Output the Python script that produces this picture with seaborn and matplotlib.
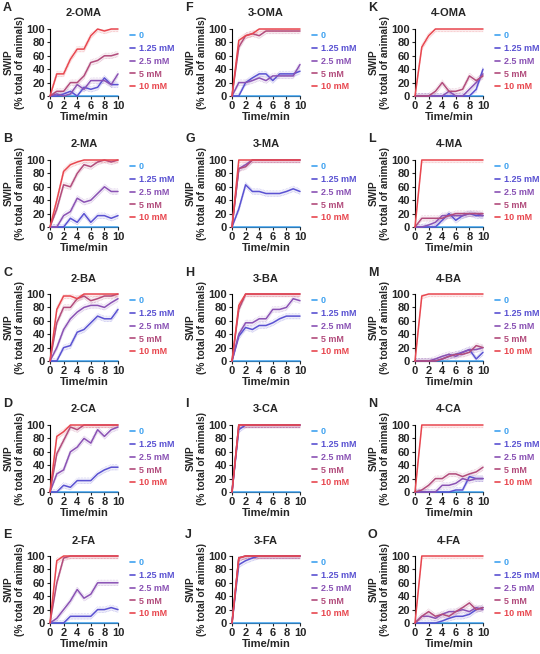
import numpy as np
import pandas as pd
import matplotlib
matplotlib.use("Agg")
import matplotlib.pyplot as plt
from matplotlib.lines import Line2D
import seaborn as sns

TIME = list(range(11))
CONCS = ["0", "1.25 mM", "2.5 mM", "5 mM", "10 mM"]
COLORS = ["#3fa2f0", "#5a52d2", "#8a52b4", "#b24c7c", "#e8474f"]
BAND = 4  # half-width of the shaded error band

ZERO = [0] * 11

# each panel: series for 0, 1.25, 2.5, 5, 10 mM
OMA2 = [ZERO,
        [0, 0, 3, 7, 0, 13, 10, 13, 27, 17, 17],
        [0, 3, 0, 3, 17, 10, 23, 23, 23, 17, 33],
        [0, 7, 7, 20, 20, 30, 50, 53, 60, 60, 63],
        [0, 33, 33, 55, 70, 70, 90, 100, 97, 100, 100]]
MA2 = [ZERO,
       [0, 0, 0, 13, 7, 20, 7, 17, 17, 13, 17],
       [0, 0, 17, 23, 43, 37, 40, 50, 60, 53, 53],
       [0, 27, 63, 60, 80, 93, 90, 97, 100, 97, 100],
       [0, 40, 83, 93, 97, 100, 100, 100, 100, 100, 100]]
BA2 = [ZERO,
       [0, 0, 20, 23, 43, 47, 57, 67, 63, 63, 77],
       [0, 20, 47, 63, 73, 80, 83, 83, 80, 87, 93],
       [0, 57, 80, 80, 93, 97, 90, 93, 97, 97, 100],
       [0, 77, 97, 97, 93, 100, 100, 100, 100, 100, 100]]
CA2 = [ZERO,
       [0, 0, 10, 7, 17, 17, 17, 27, 33, 37, 37],
       [0, 27, 33, 60, 67, 80, 73, 93, 83, 93, 97],
       [0, 57, 77, 97, 93, 100, 100, 100, 100, 100, 100],
       [0, 83, 90, 100, 100, 100, 100, 100, 100, 100, 100]]
FA2 = [ZERO,
       [0, 0, 0, 10, 10, 10, 10, 20, 20, 23, 20],
       [0, 7, 20, 33, 50, 37, 43, 60, 60, 60, 60],
       [0, 60, 97, 100, 100, 100, 100, 100, 100, 100, 100],
       [0, 93, 100, 100, 100, 100, 100, 100, 100, 100, 100]]

OMA3 = [ZERO,
        [0, 0, 20, 27, 33, 33, 23, 33, 33, 33, 37],
        [0, 20, 20, 23, 27, 23, 30, 30, 30, 30, 47],
        [0, 73, 90, 93, 90, 97, 97, 97, 97, 97, 97],
        [0, 83, 90, 93, 100, 100, 100, 100, 100, 100, 100]]
MA3 = [ZERO,
       [0, 27, 63, 53, 53, 50, 50, 50, 53, 57, 53],
       [0, 87, 93, 100, 100, 100, 100, 100, 100, 100, 100],
       [0, 87, 90, 100, 100, 100, 100, 100, 100, 100, 100],
       [0, 100, 100, 100, 100, 100, 100, 100, 100, 100, 100]]
BA3 = [ZERO,
       [0, 37, 50, 47, 53, 53, 57, 63, 67, 67, 67],
       [0, 40, 57, 57, 63, 63, 77, 77, 80, 93, 90],
       [0, 77, 100, 100, 100, 100, 100, 100, 100, 100, 100],
       [0, 83, 100, 100, 100, 100, 100, 100, 100, 100, 100]]
CA3 = [ZERO,
       [0, 93, 100, 100, 100, 100, 100, 100, 100, 100, 100],
       [0, 100, 100, 100, 100, 100, 100, 100, 100, 100, 100],
       [0, 100, 100, 100, 100, 100, 100, 100, 100, 100, 100],
       [0, 100, 100, 100, 100, 100, 100, 100, 100, 100, 100]]
FA3 = [ZERO,
       [0, 87, 93, 97, 100, 100, 100, 100, 100, 100, 100],
       [0, 97, 100, 100, 100, 100, 100, 100, 100, 100, 100],
       [0, 97, 100, 100, 100, 100, 100, 100, 100, 100, 100],
       [0, 97, 100, 100, 100, 100, 100, 100, 100, 100, 100]]

OMA4 = [ZERO,
        [0, 0, 0, 0, 0, 0, 0, 0, 0, 10, 40],
        [0, 0, 0, 0, 0, 7, 0, 0, 10, 20, 33],
        [0, 0, 0, 7, 20, 7, 7, 10, 30, 23, 30],
        [0, 73, 90, 100, 100, 100, 100, 100, 100, 100, 100]]
MA4 = [ZERO,
       [0, 0, 0, 0, 10, 20, 10, 17, 20, 17, 17],
       [0, 0, 3, 7, 17, 17, 17, 17, 20, 20, 17],
       [0, 13, 13, 13, 13, 17, 20, 20, 20, 20, 20],
       [0, 100, 100, 100, 100, 100, 100, 100, 100, 100, 100]]
BA4 = [ZERO,
       [0, 0, 0, 0, 3, 7, 10, 13, 17, 3, 13],
       [0, 0, 0, 3, 7, 10, 7, 13, 17, 17, 20],
       [0, 0, 0, 0, 3, 7, 10, 10, 13, 23, 20],
       [0, 97, 100, 100, 100, 100, 100, 100, 100, 100, 100]]
CA4 = [ZERO,
       [0, 0, 0, 0, 0, 0, 3, 3, 23, 20, 20],
       [0, 0, 0, 0, 10, 10, 13, 20, 17, 20, 20],
       [0, 3, 10, 20, 20, 27, 27, 23, 27, 30, 37],
       [0, 100, 100, 100, 100, 100, 100, 100, 100, 100, 100]]
FA4 = [ZERO,
       [0, 0, 0, 0, 3, 7, 10, 10, 13, 20, 23],
       [0, 10, 10, 7, 13, 17, 17, 20, 17, 23, 20],
       [0, 10, 17, 10, 13, 10, 17, 23, 30, 20, 23],
       [0, 100, 100, 100, 100, 100, 100, 100, 100, 100, 100]]

PANELS = [
    [("A", "2-OMA", OMA2), ("F", "3-OMA", OMA3), ("K", "4-OMA", OMA4)],
    [("B", "2-MA", MA2), ("G", "3-MA", MA3), ("L", "4-MA", MA4)],
    [("C", "2-BA", BA2), ("H", "3-BA", BA3), ("M", "4-BA", BA4)],
    [("D", "2-CA", CA2), ("I", "3-CA", CA3), ("N", "4-CA", CA4)],
    [("E", "2-FA", FA2), ("J", "3-FA", FA3), ("O", "4-FA", FA4)],
]

sns.set_theme(style="ticks")
plt.rcParams["font.family"] = ["Liberation Sans", "DejaVu Sans"]
plt.rcParams["font.weight"] = "bold"

W, H = 540, 654
fig = plt.figure(figsize=(W / 100, H / 100), dpi=100)

col_left = [50, 232, 415]
row_top = [29, 160, 294, 425, 556]
ax_w, ax_h = 68, 67

for r, row in enumerate(PANELS):
    for c, (letter, title, series) in enumerate(row):
        x0, y0 = col_left[c], row_top[r]
        ax = fig.add_axes([x0 / W, 1 - (y0 + ax_h) / H, ax_w / W, ax_h / H])
        df = pd.DataFrame({
            "t": TIME * 5,
            "swip": [v for s in series for v in s],
            "conc": [cn for cn in CONCS for _ in TIME],
        })
        for cn, col, s in zip(CONCS, COLORS, series):
            s = np.array(s, dtype=float)
            if cn == "0":
                continue
            lo = np.clip(s - BAND, 0, 100)
            hi = np.clip(s + BAND, 0, 100)
            ax.fill_between(TIME, lo, hi, color=col, alpha=0.10, lw=0)
            ax.plot(TIME, lo, color=col, lw=0.4, ls=":", alpha=0.5)
            ax.plot(TIME, hi, color=col, lw=0.4, ls=":", alpha=0.5)
        sns.lineplot(data=df, x="t", y="swip", hue="conc", hue_order=CONCS,
                     palette=COLORS, ax=ax, legend=False, lw=1.1,
                     clip_on=False, zorder=3)
        ax.set_xlim(0, 10)
        ax.set_ylim(0, 100)
        ax.set_xticks([0, 2, 4, 6, 8, 10])
        ax.set_yticks([0, 20, 40, 60, 80, 100])
        ax.tick_params(labelsize=8, length=2.5, width=0.8, pad=1)
        for lab in ax.get_xticklabels() + ax.get_yticklabels():
            lab.set_fontweight("bold")
        sns.despine(ax=ax)
        for sp in ("left", "bottom"):
            ax.spines[sp].set_linewidth(0.8)
            ax.spines[sp].set_color("black")
        ax.set_xlabel("Time/min", fontsize=8, fontweight="bold", labelpad=1)
        ax.set_ylabel("SWIP\n(% total of animals)", fontsize=7.3,
                      fontweight="bold", labelpad=1, linespacing=1.15)
        ax.set_title(title, fontsize=8, fontweight="bold", pad=9)
        fig.text((x0 - 47) / W, 1 - (y0 - 21) / H, letter, fontsize=9,
                 fontweight="bold", va="center", ha="left")
        handles = [Line2D([], [], color=col, lw=1.2) for col in COLORS]
        leg = ax.legend(handles, CONCS, loc="upper left",
                        bbox_to_anchor=(1.13, 1.02), frameon=False,
                        handlelength=0.5, handletextpad=0.45,
                        labelspacing=0.42, borderaxespad=0,
                        prop={"size": 6.5, "weight": "bold"})
        for txt, col in zip(leg.get_texts(), COLORS):
            txt.set_color(col)

fig.savefig("out.png", dpi=100)
